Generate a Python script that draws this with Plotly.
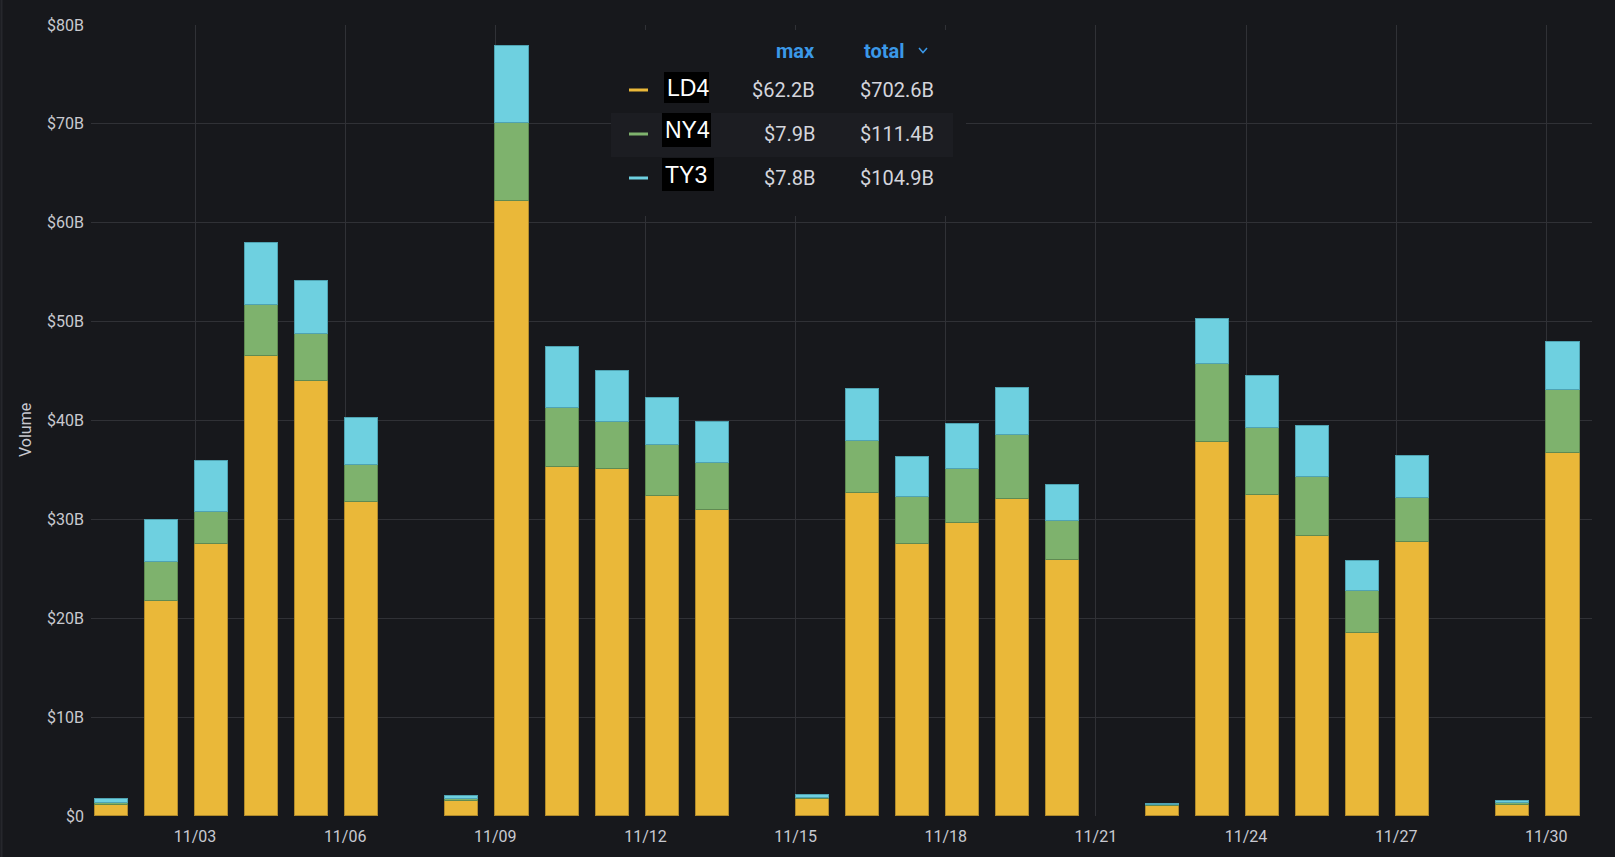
import plotly.graph_objects as go

# ---------------- data (values in billions USD) ----------------
days = ["2020-11-%02d" % d for d in range(1, 31)]
LD4 = [1.08, 21.7, 27.5, 46.5, 44.0, 31.8, None, 1.55, 62.2, 35.25, 35.05, 32.4, 30.9, None,
       1.7, 32.65, 27.5, 29.6, 32.1, 25.9, None, 1.0, 37.8, 32.46, 28.3, 18.5, 27.7, None, 1.15, 36.7]
NY4 = [0.27, 4.0, 3.28, 5.2, 4.7, 3.67, None, 0.2, 7.9, 6.05, 4.8, 5.1, 4.8, None,
       0.15, 5.3, 4.8, 5.45, 6.4, 3.95, None, 0.1, 7.88, 6.81, 6.0, 4.3, 4.5, None, 0.12, 6.37]
TY3 = [0.37, 4.2, 5.12, 6.24, 5.4, 4.79, None, 0.3, 7.8, 6.16, 5.2, 4.8, 4.1, None,
       0.27, 5.2, 4.0, 4.6, 4.8, 3.65, None, 0.15, 4.58, 5.22, 5.15, 3.0, 4.2, None, 0.2, 4.9]

series_names = ["LD4", "NY4", "TY3"]
series_colors = ["#EAB839", "#7EB26D", "#6ED0E0"]
series_edges = ["#b08a2c", "#5f8a52", "#4fa3b2"]
legend_max = ["$62.2B", "$7.9B", "$7.8B"]
legend_total = ["$702.6B", "$111.4B", "$104.9B"]

x_tick_vals = ["2020-11-03", "2020-11-06", "2020-11-09", "2020-11-12", "2020-11-15",
               "2020-11-18", "2020-11-21", "2020-11-24", "2020-11-27", "2020-11-30"]
x_tick_text = ["11/03", "11/06", "11/09", "11/12", "11/15", "11/18", "11/21", "11/24", "11/27", "11/30"]
y_tick_vals = [0, 10, 20, 30, 40, 50, 60, 70, 80]
y_tick_text = ["$0", "$10B", "$20B", "$30B", "$40B", "$50B", "$60B", "$70B", "$80B"]

# ---------------- styling ----------------
W, H = 1615, 857
ML, MR, MT, MB = 91, 23, 25, 41
BG = "#17181c"
GRID = "#303136"
TXT = "#c8c9d0"
FONT = "Roboto, Inter, sans-serif"

pw = W - ML - MR
ph = H - MT - MB


def px(x):
    return (x - ML) / pw


def py(y):
    return (H - MB - y) / ph


bar_x = [d + " 08:00" for d in days]
bar_w = 0.66 * 86400000

fig = go.Figure()
for name, vals, col, edge in zip(series_names, [LD4, NY4, TY3], series_colors, series_edges):
    fig.add_trace(go.Bar(
        x=bar_x, y=vals, name=name, width=bar_w,
        marker=dict(color=col, line=dict(color=edge, width=1)),
    ))

shapes = []
annotations = []

# panel left border
shapes.append(dict(type="line", xref="paper", yref="paper", x0=px(1.5), x1=px(1.5), y0=py(0), y1=py(H),
                   line=dict(color="#26272c", width=2), layer="above"))

# legend background and highlighted row
shapes.append(dict(type="rect", xref="paper", yref="paper", x0=px(611), x1=px(966), y0=py(216), y1=py(30),
                   fillcolor=BG, line=dict(width=0), layer="above"))
shapes.append(dict(type="rect", xref="paper", yref="paper", x0=px(611), x1=px(953), y0=py(157), y1=py(113),
                   fillcolor="#1c1d22", line=dict(width=0), layer="above"))

# header
annotations.append(dict(text="<b>max</b>", xref="paper", yref="paper", x=px(817), y=py(51),
                        xanchor="right", yanchor="middle", showarrow=False,
                        font=dict(family=FONT, size=20, color="#3b98e8")))
annotations.append(dict(text="<b>total</b>", xref="paper", yref="paper", x=px(907), y=py(51),
                        xanchor="right", yanchor="middle", showarrow=False,
                        font=dict(family=FONT, size=20, color="#3b98e8")))
shapes.append(dict(type="path", xref="paper", yref="paper",
                   path="M %f %f L %f %f L %f %f" % (px(919), py(48), px(923), py(52.5), px(927), py(48)),
                   line=dict(color="#3b98e8", width=1.5), layer="above"))

row_y = [89, 133, 177]
label_boxes = [(664, 72, 709, 103), (662, 113, 711, 147), (662, 158, 714, 191)]
label_text_x = [665, 663, 663]
for i, name in enumerate(series_names):
    y = row_y[i]
    shapes.append(dict(type="line", xref="paper", yref="paper", x0=px(629), x1=px(648), y0=py(y + 1), y1=py(y + 1),
                       line=dict(color=series_colors[i], width=3), layer="above"))
    bx0, by0, bx1, by1 = label_boxes[i]
    shapes.append(dict(type="rect", xref="paper", yref="paper", x0=px(bx0), x1=px(bx1), y0=py(by1), y1=py(by0),
                       fillcolor="#000000", line=dict(width=0), layer="above"))
    annotations.append(dict(text=name, xref="paper", yref="paper", x=px(label_text_x[i]), y=py((by0 + by1) / 2 + 0.5),
                            xanchor="left", yanchor="middle", showarrow=False,
                            font=dict(family="Liberation Sans, Arial, sans-serif", size=23, color="#ffffff")))
    annotations.append(dict(text=legend_max[i], xref="paper", yref="paper", x=px(817), y=py(y + 1),
                            xanchor="right", yanchor="middle", showarrow=False,
                            font=dict(family=FONT, size=20, color="#d4d5dc")))
    annotations.append(dict(text=legend_total[i], xref="paper", yref="paper", x=px(936), y=py(y + 1),
                            xanchor="right", yanchor="middle", showarrow=False,
                            font=dict(family=FONT, size=20, color="#d4d5dc")))

# y-axis title
annotations.append(dict(text="Volume", xref="paper", yref="paper", x=px(25), y=py(430),
                        xanchor="center", yanchor="middle", textangle=-90, showarrow=False,
                        font=dict(family=FONT, size=16, color=TXT)))

fig.update_layout(
    width=W, height=H,
    margin=dict(l=ML, r=MR, t=MT, b=MB, pad=0),
    paper_bgcolor=BG, plot_bgcolor=BG,
    barmode="stack", bargap=0,
    showlegend=False,
    font=dict(family=FONT, size=16, color=TXT),
    shapes=shapes, annotations=annotations,
    xaxis=dict(
        type="date", range=["2020-10-31 22:07", "2020-11-30 21:55"],
        tickvals=x_tick_vals, ticktext=x_tick_text,
        showgrid=True, gridcolor=GRID, gridwidth=1,
        zeroline=False, showline=False, ticks="",
        tickfont=dict(family=FONT, size=16, color=TXT),
        ticklabelstandoff=9,
    ),
    yaxis=dict(
        range=[0, 80], tickvals=y_tick_vals, ticktext=y_tick_text,
        showgrid=True, gridcolor=GRID, gridwidth=1,
        zeroline=False, showline=False, ticks="",
        tickfont=dict(family=FONT, size=16, color=TXT),
        ticklabelstandoff=6,
    ),
)

fig.write_html("out.html")
